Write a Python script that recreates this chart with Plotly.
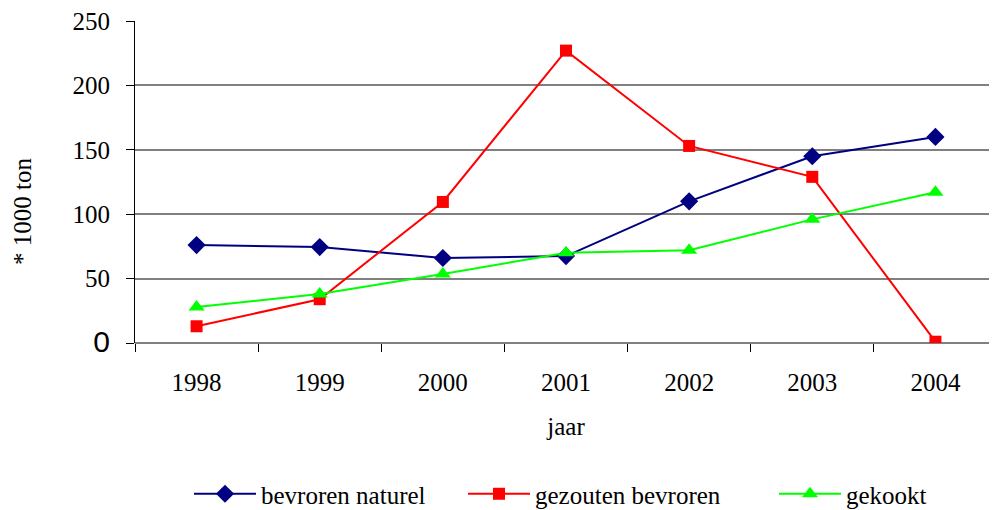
import plotly.graph_objects as go

years = ["1998", "1999", "2000", "2001", "2002", "2003", "2004"]
bevroren_naturel = [76, 74.5, 66, 67.5, 110, 145, 160]
gezouten_bevroren = [13, 34, 109.5, 227, 153, 129, 1]
gekookt = [28, 38, 53.5, 70, 72, 96, 117]
ytick_vals = [0, 50, 100, 150, 200, 250]
ytick_text = ["<span style='font-family:Arial;font-size:30px'>0</span>", "50", "100", "150", "200", "250"]

serif = "Liberation Serif, Times New Roman, serif"
FS = 25

fig = go.Figure()
fig.add_trace(go.Scatter(x=years, y=bevroren_naturel, name="bevroren naturel", mode="lines+markers",
                         line=dict(color="#000080", width=2),
                         marker=dict(symbol="diamond", size=14, color="#000080"), legend="legend"))
fig.add_trace(go.Scatter(x=years, y=gezouten_bevroren, name="gezouten bevroren", mode="lines+markers",
                         line=dict(color="#ff0000", width=2),
                         marker=dict(symbol="square", size=12, color="#ff0000"), legend="legend2"))
fig.add_trace(go.Scatter(x=years, y=gekookt, name="gekookt", mode="lines+markers",
                         line=dict(color="#00ff00", width=2),
                         marker=dict(symbol="triangle-up", size=14, color="#00ff00"), legend="legend3"))

leg_common = dict(orientation="h", yanchor="middle", xanchor="left", y=-0.469,
                  font=dict(family=serif, size=FS, color="black"), bgcolor="rgba(0,0,0,0)",
                  itemwidth=62)

fig.update_layout(
    width=989, height=502,
    margin=dict(l=127, r=0, t=13, b=167, autoexpand=False),
    showlegend=True,
    plot_bgcolor="white", paper_bgcolor="white",
    font=dict(family=serif, size=FS, color="black"),
    legend=dict(leg_common, x=54 / 862),
    legend2=dict(leg_common, x=328 / 862),
    legend3=dict(leg_common, x=639 / 862),
    xaxis=dict(type="category", range=[-0.5, 6.5], tickson="boundaries", ticks="outside",
               ticklen=8, tickcolor="black", showline=False, showgrid=False, automargin=False,
               tickfont=dict(family=serif, size=FS), ticklabelstandoff=22,
               title=dict(text="jaar", font=dict(family=serif, size=FS), standoff=22)),
    yaxis=dict(range=[0, 250], tickvals=ytick_vals, ticktext=ytick_text, ticks="outside",
               ticklen=8, tickcolor="black", showline=True, linecolor="black", linewidth=1,
               showgrid=True, gridcolor="#808080", gridwidth=1.5, zeroline=True,
               zerolinecolor="#808080", zerolinewidth=1.5, automargin=False,
               ticklabeloverflow="allow",
               tickfont=dict(family=serif, size=FS), ticklabelstandoff=11),
    annotations=[dict(text="* 1000 ton", xref="paper", yref="paper",
                      x=(22 - 135) / 862, y=(343 - 212) / 322, textangle=-90,
                      showarrow=False, xanchor="center", yanchor="middle",
                      font=dict(family=serif, size=FS, color="black"))],
)

fig.write_html("out.html")
